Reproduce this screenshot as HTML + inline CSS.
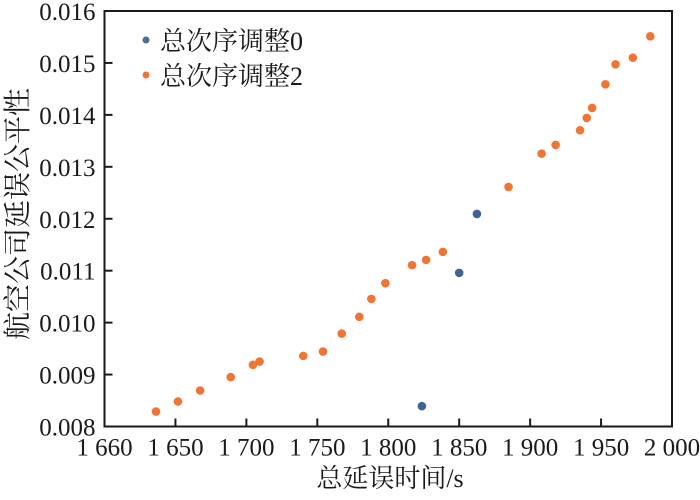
<!DOCTYPE html>
<html><head><meta charset="utf-8"><style>
body{margin:0;background:#fff;}
svg text{font-family:"Liberation Serif","Noto Serif CJK SC",serif;fill:#1a1a1a;}
</style></head><body>
<svg id="chart" width="700" height="495" xmlns="http://www.w3.org/2000/svg"></svg>
<script>
const xTicks=[1600,1650,1700,1750,1800,1850,1900,1950,2000];
const xTickLabels=["1 660","1 650","1 700","1 750","1 800","1 850","1 900","1 950","2 000"];
const yTicks=[0.008,0.009,0.010,0.011,0.012,0.013,0.014,0.015,0.016];
const yTickLabels=["0.008","0.009","0.010","0.011","0.012","0.013","0.014","0.015","0.016"];
const s0x=[1823.7,1850.0,1862.5];
const s0y=[0.008392,0.010958,0.012093];
const s2x=[1636.3,1651.8,1667.4,1689.0,1704.6,1709.3,1740.1,1754.0,1767.2,1779.6,1788.1,1798.0,1816.8,1826.7,1838.5,1884.8,1908.1,1918.0,1935.2,1939.9,1943.7,1953.1,1960.2,1972.4,1984.7];
const s2y=[0.008288,0.008481,0.008693,0.008951,0.009187,0.009251,0.009360,0.009443,0.009789,0.010111,0.010457,0.010760,0.011107,0.011208,0.011362,0.012613,0.013254,0.013421,0.013704,0.013941,0.014133,0.014589,0.014974,0.015101,0.015513];

const L=104.5,R=672,T=11,B=426.5;
const FF='"Liberation Serif","Noto Serif CJK SC",serif';
const X=v=>L+(v-1600)/400*(R-L);
const Y=v=>B-(v-0.008)/0.008*(B-T);
const svg=document.getElementById('chart');
const NS='http://www.w3.org/2000/svg';
function mk(tag,attrs,parent){const e=document.createElementNS(NS,tag);for(const k in attrs)e.setAttribute(k,attrs[k]);(parent||svg).appendChild(e);return e;}

const frame=mk('rect',{x:L,y:T,width:R-L,height:B-T,fill:'none',stroke:'#1a1a1a','stroke-width':2});



xTicks.forEach((v,i)=>{
  const t=mk('line',{x1:X(v),x2:X(v),y1:B,y2:B-8,stroke:'#1a1a1a','stroke-width':2});
  
  
  const lb=mk('text',{x:X(v),y:B+29,'font-size':25,'font-family':FF,'text-anchor':'middle'});
  lb.textContent=xTickLabels[i];
  
  
});
yTicks.forEach((v,i)=>{
  const t=mk('line',{x1:L,x2:L+8,y1:Y(v),y2:Y(v),stroke:'#1a1a1a','stroke-width':2});
  
  
  const lb=mk('text',{x:L-9,y:Y(v)+9,'font-size':25,'font-family':FF,'text-anchor':'end'});
  lb.textContent=yTickLabels[i];
  
  
});
s2x.forEach((v,i)=>{
  const c=mk('circle',{cx:X(v),cy:Y(s2y[i]),r:4.3,fill:'#f07535'});
  
  
});
s0x.forEach((v,i)=>{
  const c=mk('circle',{cx:X(v),cy:Y(s0y[i]),r:4.3,fill:'#3d6494'});
  
  
});
const leg=[['总次序调整0','#4a6f9c',40],['总次序调整2','#f07535',75]];
leg.forEach(l=>{
  const c=mk('circle',{cx:146,cy:l[2],r:3.5,fill:l[1]});
  
  
  const t=mk('text',{x:160,y:l[2]+10,'font-size':26,'font-family':FF});
  t.textContent=l[0];
  
  
});
const xt=mk('text',{x:390,y:487,'font-size':26,'font-family':FF,'text-anchor':'middle'});
xt.textContent='总延误时间/s';


const yt=mk('text',{x:0,y:0,'font-size':28,'font-family':FF,'text-anchor':'middle',transform:'translate(27,214) rotate(-90)'});
yt.textContent='航空公司延误公平性';


</script>
</body></html>
